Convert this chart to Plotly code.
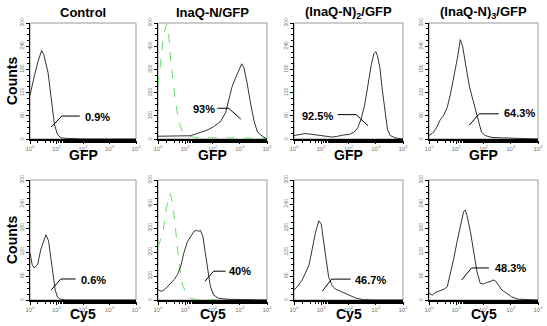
import numpy as np
import plotly.graph_objects as go

W, H = 547, 326

titles = ["Control", "InaQ-N/GFP", "(InaQ-N)<sub>2</sub>/GFP", "(InaQ-N)<sub>3</sub>/GFP"]
channels = ["GFP", "Cy5"]
percent_labels = ["0.9%", "93%", "92.5%", "64.3%", "0.6%", "40%", "46.7%", "48.3%"]
y_max = [300, 500, 300, 300, 300, 500, 300, 300]

# histogram curves: x in decades (log10 of fluorescence), y = counts
gfp_ctrl_x = [0.0, 0.08, 0.17, 0.3, 0.44, 0.52, 0.6, 0.68, 0.73, 0.82, 0.92, 1.04, 1.17, 1.3, 1.5, 1.7, 2.0, 3.0, 4.0]
gfp_ctrl_y = [113, 140, 165, 200, 229, 218, 198, 172, 145, 100, 38, 11, 3, 2, 1, 1, 0, 0, 0]

gfp_n1_x = [0.0, 0.4, 0.8, 1.18, 1.42, 1.8, 2.04, 2.29, 2.48, 2.6, 2.72, 2.85, 2.97, 3.07, 3.15, 3.27, 3.4, 3.53, 3.65, 3.83, 4.0]
gfp_n1_y = [12, 12, 12, 14, 23, 38, 53, 75, 113, 166, 226, 264, 294, 324, 309, 241, 151, 75, 30, 12, 0]
gfp_neg_x = [0.0, 0.1, 0.2, 0.28, 0.33, 0.4, 0.47, 0.62, 0.74, 0.87, 1.05, 1.3, 1.6, 2.0, 3.0, 4.0]
gfp_neg_y = [230, 350, 440, 485, 494, 440, 331, 181, 90, 38, 15, 8, 5, 5, 4, 3]

gfp_n2_x = [0.0, 0.16, 0.41, 0.66, 0.91, 1.15, 1.4, 1.6, 1.78, 2.03, 2.21, 2.34, 2.46, 2.59, 2.71, 2.84, 2.93, 3.0, 3.06, 3.15, 3.25, 3.34, 3.43, 3.53, 3.71, 4.0]
gfp_n2_y = [9, 11, 14, 12, 9, 7, 5, 7, 10, 12, 18, 29, 51, 87, 140, 193, 220, 226, 216, 185, 122, 69, 25, 9, 3, 0]

gfp_n3_x = [0.0, 0.16, 0.28, 0.4, 0.53, 0.67, 0.79, 0.92, 1.05, 1.15, 1.24, 1.36, 1.49, 1.62, 1.74, 1.83, 1.93, 2.06, 2.31, 2.69, 3.06, 3.5, 4.0]
gfp_n3_y = [9, 17, 30, 48, 60, 82, 117, 160, 212, 257, 238, 186, 134, 99, 65, 39, 17, 9, 4, 3, 2, 1, 0]

cy5_ctrl_x = [0.0, 0.08, 0.16, 0.29, 0.41, 0.54, 0.6, 0.7, 0.79, 0.88, 0.95, 1.04, 1.16, 1.35, 2.0, 4.0]
cy5_ctrl_y = [118, 89, 80, 89, 127, 156, 163, 148, 106, 59, 25, 7, 2, 0, 0, 0]

cy5_n1_x = [0.0, 0.12, 0.24, 0.42, 0.6, 0.72, 0.84, 0.94, 1.08, 1.2, 1.32, 1.42, 1.5, 1.56, 1.65, 1.74, 1.84, 1.92, 2.04, 2.22, 2.58, 3.2, 4.0]
cy5_n1_y = [43, 36, 43, 64, 86, 107, 143, 193, 243, 264, 286, 290, 286, 290, 264, 193, 107, 57, 21, 7, 3, 1, 0]
cy5_neg_x = [0.0, 0.18, 0.3, 0.44, 0.54, 0.66, 0.78, 0.9, 1.02, 1.2, 1.38, 2.0, 3.0, 4.0]
cy5_neg_y = [221, 279, 379, 443, 407, 279, 150, 64, 29, 7, 3, 2, 2, 1]

cy5_n2_x = [0.0, 0.12, 0.3, 0.42, 0.55, 0.67, 0.79, 0.91, 1.0, 1.09, 1.19, 1.27, 1.39, 1.52, 1.7, 1.88, 2.06, 2.3, 2.55, 3.0, 4.0]
cy5_n2_y = [25, 33, 50, 70, 87, 128, 169, 198, 190, 145, 95, 58, 37, 27, 22, 17, 11, 4, 1, 0, 0]

cy5_n3_x = [0.0, 0.12, 0.24, 0.36, 0.55, 0.67, 0.79, 0.91, 1.03, 1.15, 1.27, 1.33, 1.39, 1.52, 1.64, 1.76, 1.88, 2.0, 2.12, 2.24, 2.36, 2.45, 2.55, 2.67, 2.85, 3.03, 3.27, 4.0]
cy5_n3_y = [17, 12, 19, 22, 27, 33, 67, 104, 146, 187, 221, 225, 212, 171, 121, 71, 42, 40, 44, 46, 50, 47, 37, 25, 17, 8, 2, 0]

main_curves = [
    (gfp_ctrl_x, gfp_ctrl_y), (gfp_n1_x, gfp_n1_y), (gfp_n2_x, gfp_n2_y), (gfp_n3_x, gfp_n3_y),
    (cy5_ctrl_x, cy5_ctrl_y), (cy5_n1_x, cy5_n1_y), (cy5_n2_x, cy5_n2_y), (cy5_n3_x, cy5_n3_y),
]
neg_curves = {1: (gfp_neg_x, gfp_neg_y), 5: (cy5_neg_x, cy5_neg_y)}

# pointer geometry in axis-domain fractions: text-left-x, text-y, line points
pointers = [
    (0.50, 0.19, [(0.47, 0.198), (0.30, 0.198), (0.20, 0.103)]),
    (0.30, 0.256, [(0.546, 0.265), (0.648, 0.265), (0.76, 0.171)]),
    (0.056, 0.20, [(0.40, 0.21), (0.57, 0.21), (0.68, 0.114)]),
    (0.67, 0.226, [(0.64, 0.217), (0.46, 0.217), (0.37, 0.12)]),
    (0.46, 0.167, [(0.43, 0.175), (0.29, 0.175), (0.20, 0.083)]),
    (0.63, 0.24, [(0.62, 0.24), (0.51, 0.24), (0.43, 0.155)]),
    (0.545, 0.165, [(0.52, 0.174), (0.345, 0.174), (0.26, 0.074)]),
    (0.59, 0.267, [(0.55, 0.267), (0.39, 0.267), (0.30, 0.167)]),
]

# panel boxes in page pixels
col_px = [(30, 136), (158, 267), (294, 403), (429, 538)]
row_px = [(23, 139), (180, 300)]
label_gap = [16, 14]


def px(xp):
    return xp / W


def py(yp):
    return 1 - yp / H


fig = go.Figure()
tickvals = [1, 10, 100, 1000, 10000]
ticktext = ["10<sup>0</sup>", "10<sup>1</sup>", "10<sup>2</sup>", "10<sup>3</sup>", "10<sup>4</sup>"]
annotations = []
shapes = []

for i in range(8):
    r, c = divmod(i, 4)
    k = i + 1
    xs = "" if k == 1 else str(k)
    xa, ya = "x" + xs, "y" + xs
    xd = [px(col_px[c][0]), px(col_px[c][1])]
    yd = [py(row_px[r][1]), py(row_px[r][0])]
    ymax = y_max[i]
    step = ymax / 5
    fig.update_layout(**{
        "xaxis" + xs: dict(
            domain=xd, type="log", range=[0, 4], anchor=ya,
            tickvals=tickvals, ticktext=ticktext,
            tickfont=dict(size=6, color="#777", family="Arial"),
            ticks="outside", ticklen=3, tickwidth=1, tickcolor="black",
            minor=dict(ticks="outside", ticklen=2, tickcolor="black", showgrid=False),
            showline=True, linecolor="black", linewidth=1.5,
            showgrid=False, zeroline=False, fixedrange=True, automargin=False,
        ),
        "yaxis" + xs: dict(
            domain=yd, range=[0, ymax], anchor=xa,
            tickvals=[step * j for j in range(6)],
            ticktext=[str(int(step * j)) for j in range(6)],
            tickangle=-90,
            tickfont=dict(size=5, color="#777", family="Arial"),
            ticks="outside", ticklen=3, tickwidth=1, tickcolor="black",
            minor=dict(ticks="outside", ticklen=2, tickcolor="black", dtick=step / 4, showgrid=False),
            showline=True, linecolor="black", linewidth=1.5,
            showgrid=False, zeroline=False, fixedrange=True, automargin=False,
        ),
    })
    # gray frame (top/right)
    shapes.append(dict(type="rect", xref=xa + " domain", yref=ya + " domain",
                       x0=0, x1=1, y0=0, y1=1, line=dict(color="#999", width=1), layer="below"))
    if i in neg_curves:
        nx, ny = neg_curves[i]
        fig.add_trace(go.Scatter(x=10 ** np.array(nx), y=ny, xaxis=xa, yaxis=ya, mode="lines",
                                 line=dict(color="#66dd66", width=1, dash="dash"),
                                 showlegend=False, hoverinfo="skip"))
    mx, my = main_curves[i]
    fig.add_trace(go.Scatter(x=10 ** np.array(mx), y=my, xaxis=xa, yaxis=ya, mode="lines",
                             line=dict(color="#333", width=1),
                             showlegend=False, hoverinfo="skip"))
    tx, ty, pts = pointers[i]
    annotations.append(dict(text="<b>" + percent_labels[i] + "</b>", xref=xa + " domain", yref=ya + " domain",
                            x=tx, y=ty, xanchor="left", yanchor="middle", showarrow=False,
                            font=dict(size=11, color="black", family="Arial")))
    for a, b in zip(pts[:-1], pts[1:]):
        shapes.append(dict(type="line", xref=xa + " domain", yref=ya + " domain",
                           x0=a[0], y0=a[1], x1=b[0], y1=b[1], line=dict(color="black", width=1)))
    # channel label
    annotations.append(dict(text="<b>" + channels[r] + "</b>", xref="paper", yref="paper",
                            x=px((col_px[c][0] + col_px[c][1]) / 2),
                            y=py(row_px[r][1] + label_gap[r]), xanchor="center", yanchor="middle",
                            showarrow=False, font=dict(size=14, color="black", family="Arial")))

for c in range(4):
    annotations.append(dict(text="<b>" + titles[c] + "</b>", xref="paper", yref="paper",
                            x=px((col_px[c][0] + col_px[c][1]) / 2), y=py(12),
                            xanchor="center", yanchor="middle", showarrow=False,
                            font=dict(size=13, color="black", family="Arial")))
for r in range(2):
    annotations.append(dict(text="<b>Counts</b>", xref="paper", yref="paper",
                            x=px(12), y=py((row_px[r][0] + row_px[r][1]) / 2),
                            xanchor="center", yanchor="middle", textangle=-90, showarrow=False,
                            font=dict(size=14, color="black", family="Arial")))

fig.update_layout(width=W, height=H, margin=dict(l=0, r=0, t=0, b=0, autoexpand=False),
                  paper_bgcolor="white", plot_bgcolor="white",
                  annotations=annotations, shapes=shapes, showlegend=False)
fig.write_html(
    "out.html",
    config={"displayModeBar": False, "staticPlot": True},
    post_script="document.body.style.margin='0';document.body.style.overflow='hidden';"
                "document.documentElement.style.overflow='hidden';",
)
